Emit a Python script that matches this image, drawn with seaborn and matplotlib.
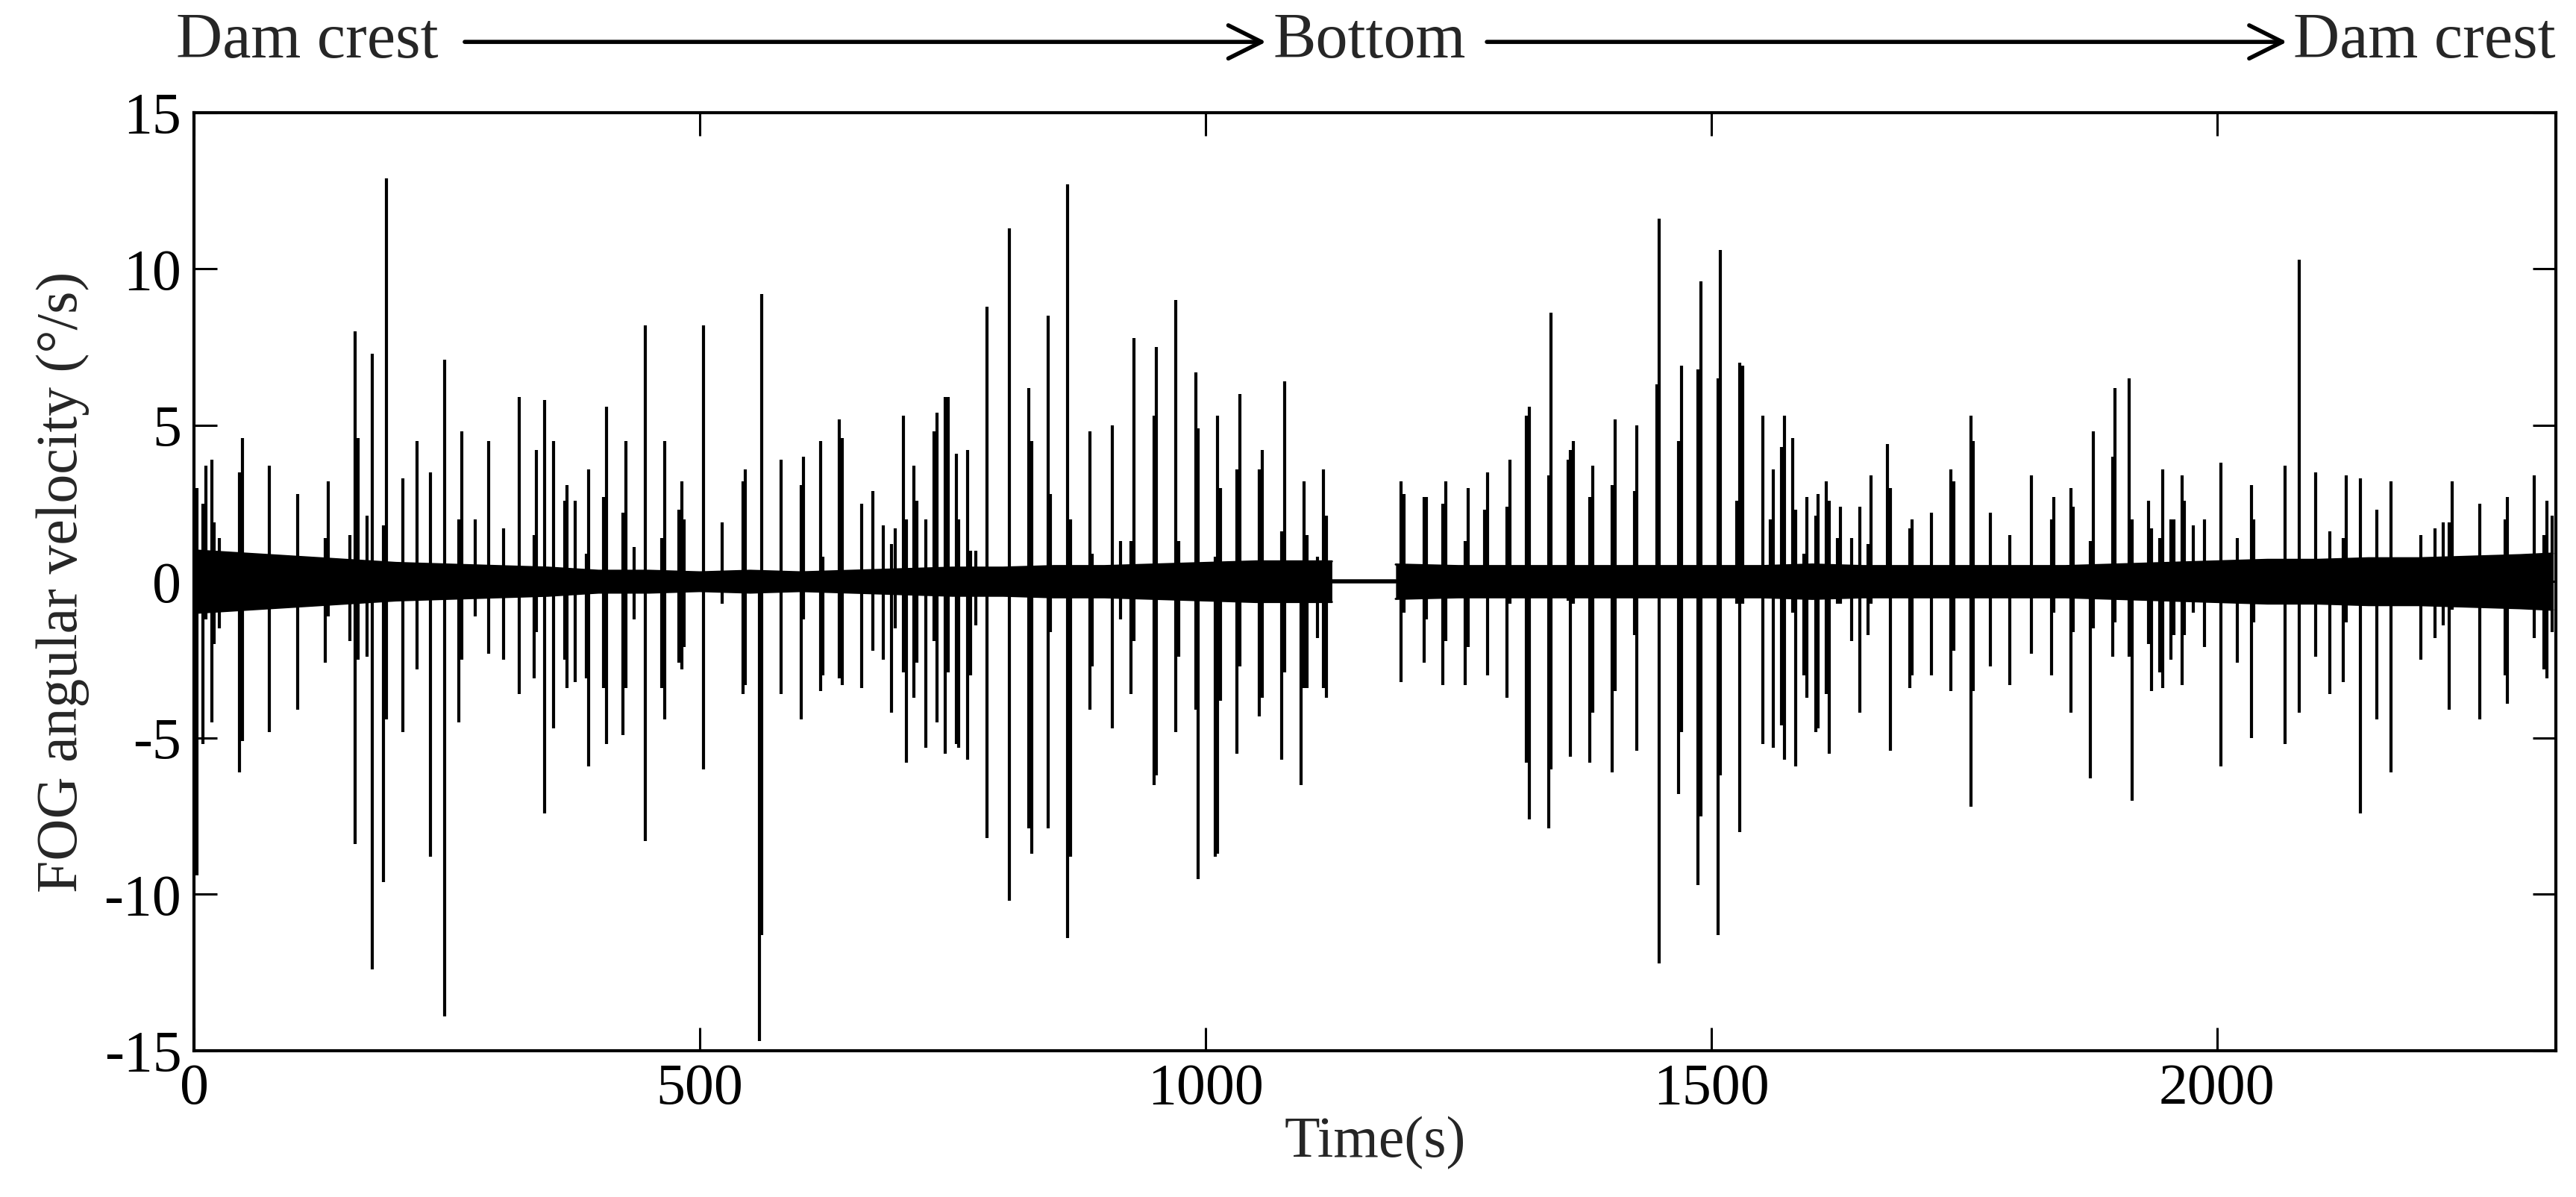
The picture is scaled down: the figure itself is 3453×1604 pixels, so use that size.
import matplotlib
matplotlib.use("Agg")
import matplotlib.pyplot as plt
import seaborn as sns
import pandas as pd

# Spikes: time (s), peak up, peak down (deg/s)
spike_t = [3, 9, 11.6, 17.4, 20, 24.8, 45.3, 48, 74.8, 102.5, 129.6, 132.8, 154.3, 159.6,
           162.5, 171, 176.5, 187.5, 190.1, 206.5, 220.4, 234, 247.8, 261.8, 264.9, 278,
           291.5, 305.7, 321.8, 336, 338.7, 346.8, 355.2, 366.3, 369, 377, 388, 390.3,
           405, 407.7, 424.3, 427, 435, 446.2, 462.5, 465.1, 479.6, 482, 484.3, 503.8,
           522.5, 542.5, 545.2, 558.9, 561.5, 580.4, 600, 602.6, 619.2, 621.8, 638.1, 641,
           660, 671.3, 681.8, 689.7, 692.9, 701.3, 704, 711.8, 714.7, 723.2, 731.6, 734.2,
           742.4, 745.5, 753.4, 756.3, 764.5, 767.4, 773, 783.7,
           806, 825.1, 828.3, 844.4, 847, 863.6, 866.5, 885.7, 888.3, 907.6, 916, 926.5,
           929.4, 948.9, 951.5, 970.8, 973.4, 990.2, 992.9, 1009.5, 1012, 1014.7, 1031.3,
           1034, 1053.4, 1056, 1075.3, 1078, 1094.5, 1097.1, 1100.3, 1110.8, 1116.6, 1119.2,
           1193, 1196.3, 1215.8, 1218.4, 1234.8, 1237.4, 1256.4, 1259.5, 1276.1, 1278.7,
           1298, 1300.6, 1316.9, 1319.8, 1339, 1341.7, 1358.3, 1360.9, 1363.8, 1380.1,
           1382.7, 1402, 1404.6, 1423.8, 1426.7, 1445.9, 1448.6, 1467.8, 1470.7, 1487,
           1489.9, 1506.5, 1509.1, 1525.5, 1528.3, 1531.2, 1550.7, 1558.6, 1561.3, 1569.7,
           1572.6, 1580.7, 1583.4, 1591.5,
           1594.5, 1603.2, 1605.6, 1614, 1616.6, 1624.8, 1627.7, 1638.8, 1646.7, 1655,
           1658, 1674, 1677, 1696.2, 1698.8, 1717.8, 1737, 1739.9, 1756.5, 1758.8, 1775.7,
           1794.9, 1816.8, 1836.2, 1838.9, 1855.5, 1858.1, 1874.9, 1877.6, 1896.8, 1899.4,
           1913.4, 1916, 1932.6, 1935.2, 1943.7, 1946.3, 1954.7, 1957.4, 1965.3, 1967.9,
           1976.3, 1987.6, 2004.1, 2020.2, 2034, 2036.6, 2067.1, 2081.1, 2097.2, 2111.3,
           2125.1, 2127.7, 2141.5, 2157.6, 2171.6, 2201.8, 2215.6, 2223.9, 2229.4, 2232.2,
           2259.5, 2284.5, 2287.1, 2313.9, 2323.3, 2325.9, 2331.1]
spike_hi = [3.0, 2.5, 3.7, 3.9, 1.9, 1.4, 3.5, 4.6, 3.7, 2.8, 1.4, 3.2, 1.5, 8.0,
            4.6, 2.1, 7.3, 1.8, 12.9, 3.3, 4.5, 3.5, 7.1, 2.0, 4.8, 2.0,
            4.5, 1.7, 5.9, 1.5, 4.2, 5.8, 4.5, 2.6, 3.1, 2.6, 0.9, 3.6,
            2.7, 5.6, 2.2, 4.5, 1.1, 8.2, 1.4, 4.5, 2.3, 3.2, 2.0, 8.2,
            1.9, 3.2, 3.6, 0.1, 9.2, 3.9, 3.1, 4.0, 4.5, 0.8, 5.2, 4.6,
            2.5, 2.9, 1.8, 1.2, 1.7, 5.3, 2.0, 3.7, 2.6, 2.0, 4.8, 5.4,
            5.9, 5.9, 4.1, 2.0, 4.2, 1.0, 1.0, 8.8,
            11.3, 6.2, 4.5, 8.5, 2.8, 12.7, 2.0, 4.8, 0.9, 5.0, 1.3, 1.3,
            7.8, 5.3, 7.5, 9.0, 1.3, 6.7, 4.9, 0.8, 5.3, 3.0, 3.6,
            6.0, 3.6, 4.2, 1.6, 6.4, -0.3, 3.2, 1.5, 0.8, 3.6, 2.1,
            3.2, 2.8, 2.7, 2.7, 2.5, 3.2, 1.3, 3.0, 2.3, 3.5,
            2.4, 3.9, 5.3, 5.6, 3.4, 8.6, 3.9, 4.2, 4.5, 2.7,
            3.7, 3.1, 5.2, 2.9, 5.0, 6.3, 11.6, 4.5, 6.9, 6.8,
            9.6, 6.5, 10.6, 2.6, 7.0, 6.9, 5.3, 2.0, 3.6, 4.3,
            5.3, 4.6, 2.3, 0.9,
            2.7, 2.1, 2.8, 3.2, 2.6, 1.4, 2.4, 1.4, 2.4, 1.2,
            3.4, 4.4, 3.0, 1.7, 2.0, 2.2, 3.6, 3.2, 5.3, 4.5, 2.2,
            1.5, 3.4, 2.0, 2.7, 3.0, 2.4, 1.3, 4.8, 4.0, 6.2,
            6.5, 2.0, 2.6, 1.7, 1.4, 3.6, 2.0, 2.0, 3.4, 2.6,
            1.8, 2.0, 3.8, 1.4, 3.1, 2.0, 3.7, 10.3, 3.5, 1.6,
            1.4, 3.4, 3.3, 2.3, 3.2, 1.5, 1.7, 1.9, 1.9, 3.2,
            2.5, 2.0, 2.7, 3.4, 1.5, 2.6, 2.1]
spike_lo = [-9.4, -5.2, -1.2, -4.5, -2.0, -1.5, -6.1, -5.1, -4.8, -4.1, -2.6, -1.1, -1.9, -8.4,
            -2.5, -2.4, -12.4, -9.6, -4.4, -4.8, -2.8, -8.8, -13.9, -4.5, -2.5, -1.1,
            -2.3, -2.5, -3.6, -3.1, -1.6, -7.4, -4.7, -2.5, -3.4, -3.2, -3.1, -5.9,
            -3.4, -5.2, -4.9, -3.4, -1.2, -8.3, -3.4, -4.4, -2.6, -2.8, -2.1, -6.0,
            -0.7, -3.6, -3.3, -14.7, -11.3, -3.6, -4.4, -1.2, -3.5, -3.0, -3.1, -3.3,
            -3.4, -2.2, -2.5, -4.2, -1.5, -2.9, -5.8, -3.7, -2.6, -5.3, -1.9, -4.5,
            -5.5, -2.9, -5.2, -5.3, -5.7, -3.0, -1.4, -8.2,
            -10.2, -7.9, -8.7, -7.9, -1.6, -11.4, -8.8, -4.1, -2.7, -4.7, -1.2, -3.6,
            -1.9, -6.5, -6.2, -4.8, -2.4, -4.1, -9.5, -8.8, -8.7, -3.8, -5.5,
            -2.7, -4.3, -3.7, -5.7, -2.9, -6.5, -3.4, -3.4, -1.8, -3.4, -3.7,
            -3.2, -1.0, -2.6, -1.2, -3.3, -1.9, -3.3, -2.1, -0.5, -3.0,
            -3.7, -0.7, -5.8, -7.6, -7.9, -6.0, -0.6, -5.6, -0.7, -5.8,
            -4.2, -6.1, -3.5, -1.7, -5.4, -0.3, -12.2, -6.8, -4.8, -9.7,
            -7.5, -11.3, -6.2, -0.7, -8.0, -0.7, -5.2, -0.4, -5.3, -4.6,
            -5.7, -1.0, -5.9, -3.0,
            -3.7, -4.8, -4.7, -3.6, -5.5, -0.7, -0.7, -1.9, -4.2, -1.7,
            -0.7, -0.4, -5.4, -3.4, -3.0, -3.0, -3.5, -2.2, -7.2, -3.5, -2.7,
            -3.3, -2.3, -3.0, -1.0, -4.2, -1.6, -6.3, -1.5, -2.4, -1.3,
            -2.4, -7.0, -2.0, -3.5, -2.9, -3.4, -2.5, -1.7, -3.3, -1.7,
            -1.0, -2.1, -5.9, -2.6, -5.0, -1.3, -5.2, -4.2, -2.4, -3.6,
            -3.2, -1.3, -7.4, -4.4, -6.1, -2.5, -1.8, -1.4, -4.1, -0.9,
            -4.4, -3.0, -3.9, -1.8, -2.8, -3.1, -1.6]

# Envelope of the dense background noise (deg/s), read every ~50 s
band_t = [0, 50, 100, 150, 200, 250, 300, 350, 400, 450, 500, 550, 600, 650, 700, 750,
          800, 850, 900, 950, 1000, 1050, 1100, 1125]
band_hi = [1.0, 0.9, 0.8, 0.7, 0.6, 0.55, 0.5, 0.45, 0.35, 0.35, 0.3, 0.35, 0.3, 0.35,
           0.4, 0.45, 0.45, 0.5, 0.5, 0.55, 0.6, 0.65, 0.65, 0.65]
band2_t = [1188, 1250, 1300, 1350, 1400, 1450, 1500, 1550, 1600, 1650, 1700, 1750, 1800,
           1850, 1900, 1950, 2000, 2050, 2100, 2150, 2200, 2250, 2300, 2332]
band2_hi = [0.55, 0.5, 0.5, 0.5, 0.5, 0.5, 0.5, 0.5, 0.55, 0.5, 0.5, 0.5, 0.5, 0.5, 0.55,
            0.6, 0.65, 0.7, 0.7, 0.75, 0.75, 0.8, 0.85, 0.9]

# Stop at the bottom: flat record
gap_t = [1125, 1188]
gap_v = [0.0, 0.0]

yticks = [-15, -10, -5, 0, 5, 10, 15]
xticks = [0, 500, 1000, 1500, 2000]

sns.set_style("ticks")
plt.rcParams['font.family'] = ['Liberation Serif', 'DejaVu Serif']
plt.rcParams['axes.unicode_minus'] = False

fig = plt.figure(figsize=(34.53, 16.04), dpi=100)
ax = fig.add_axes([0.0753, 0.1222, 0.9169, 0.7837])

col = 'black'
for bt, bh in [(band_t, band_hi), (band2_t, band2_hi)]:
    d = pd.DataFrame({'t': bt, 'hi': bh, 'lo': [-v for v in bh]})
    ax.fill_between(d['t'], d['lo'], d['hi'], color=col, linewidth=0)
    sns.lineplot(data=d, x='t', y='hi', ax=ax, color=col, linewidth=2)
    sns.lineplot(data=d, x='t', y='lo', ax=ax, color=col, linewidth=2)

sns.lineplot(x=gap_t, y=gap_v, ax=ax, color=col, linewidth=4)
ax.vlines(spike_t, spike_lo, spike_hi, color=col, linewidth=3)

ax.set_xlim(0, 2335)
ax.set_ylim(-15, 15)
ax.set_xticks(xticks)
ax.set_yticks(yticks)
ax.tick_params(direction='in', length=22, width=2.2, top=True, right=True,
               labelsize=56, pad=12, colors='black')
for s in ax.spines.values():
    s.set_linewidth(3)
    s.set_color('black')

ax.set_xlabel("Time(s)", fontsize=56, labelpad=0)
ax.set_ylabel("FOG angular velocity (°/s)", fontsize=56, labelpad=14)

# Direction of travel above the plot
ty = 0.965
fs = 62
fig.text(0.0683, ty, "Dam crest", fontsize=fs, ha='left', va='center')
fig.text(0.4943, ty, "Bottom", fontsize=fs, ha='left', va='center')
fig.text(0.8902, ty, "Dam crest", fontsize=fs, ha='left', va='center')
arrow = dict(arrowstyle='->', color='black', lw=4, mutation_scale=80,
             shrinkA=0, shrinkB=0)
ax.annotate("", xy=(0.4915, ty), xytext=(0.1804, ty), xycoords='figure fraction',
            textcoords='figure fraction', arrowprops=arrow, annotation_clip=False)
ax.annotate("", xy=(0.8878, ty), xytext=(0.5772, ty), xycoords='figure fraction',
            textcoords='figure fraction', arrowprops=arrow, annotation_clip=False)

plt.savefig("out.png", dpi=100)
plt.close()
